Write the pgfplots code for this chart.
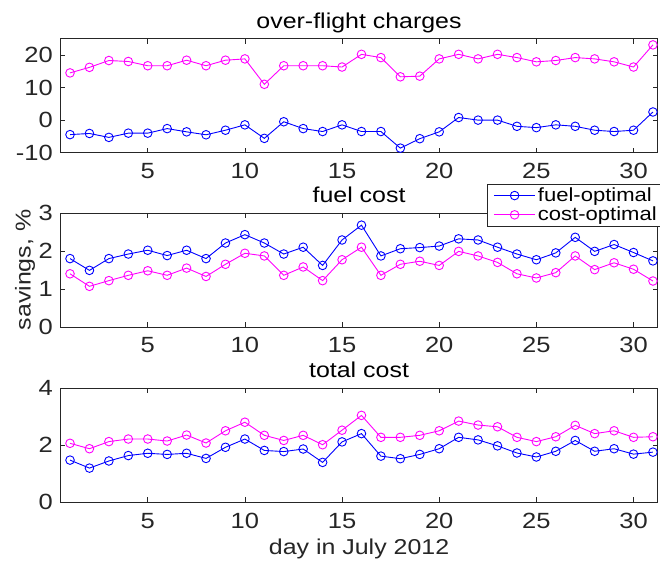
\documentclass[border=0pt]{standalone}
\usepackage{pgfplots}
\usepackage{pgfplotstable}
\pgfplotsset{compat=1.18}
\usepackage{fontspec}
\setmainfont[FakeStretch=1.16]{Liberation Sans}

\definecolor{mblue}{rgb}{0,0,1}
\definecolor{mmag}{rgb}{1,0,1}
\definecolor{axgray}{gray}{0.15}

% day, fuel-optimal, cost-optimal
\pgfplotstableread{
day fuel cost
1  -4.45 14.5
2  -4.1  16.2
3  -5.3  18.3
4  -4.0  18.0
5  -4.0  16.7
6  -2.6  16.7
7  -3.6  18.4
8  -4.5  16.7
9  -3.1  18.4
10 -1.45 18.8
11 -5.6  11.0
12 -0.5  16.7
13 -2.6  16.7
14 -3.5  16.7
15 -1.45 16.3
16 -3.5  20.2
17 -3.5  19.2
18 -8.6  13.3
19 -5.7  13.5
20 -3.6  18.8
21  0.8  20.2
22  0.0  18.8
23  0.0  20.2
24 -1.9  19.2
25 -2.3  17.9
26 -1.45 18.3
27 -1.9  19.2
28 -3.1  18.8
29 -3.5  17.9
30 -3.1  16.3
31  2.5  23.1
}\overflight

\pgfplotstableread{
day fuel cost
1  1.80 1.40
2  1.49 1.07
3  1.80 1.22
4  1.92 1.36
5  2.02 1.48
6  1.88 1.36
7  2.02 1.55
8  1.80 1.33
9  2.21 1.65
10 2.43 1.94
11 2.21 1.87
12 1.92 1.36
13 2.10 1.58
14 1.62 1.22
15 2.29 1.77
16 2.68 2.10
17 1.87 1.36
18 2.06 1.65
19 2.09 1.73
20 2.13 1.62
21 2.32 1.99
22 2.29 1.87
23 2.10 1.70
24 1.92 1.40
25 1.77 1.29
26 1.95 1.43
27 2.36 1.87
28 1.99 1.51
29 2.17 1.69
30 1.96 1.52
31 1.74 1.21
}\fuelcost

\pgfplotstableread{
day fuel cost
1  1.48 2.07
2  1.20 1.88
3  1.45 2.13
4  1.64 2.22
5  1.72 2.22
6  1.68 2.15
7  1.72 2.36
8  1.54 2.08
9  1.93 2.51
10 2.22 2.81
11 1.82 2.35
12 1.78 2.17
13 1.87 2.35
14 1.40 2.02
15 2.12 2.53
16 2.41 3.05
17 1.62 2.28
18 1.53 2.28
19 1.68 2.35
20 1.88 2.51
21 2.28 2.85
22 2.19 2.71
23 1.98 2.65
24 1.73 2.28
25 1.59 2.13
26 1.79 2.30
27 2.17 2.70
28 1.79 2.41
29 1.88 2.51
30 1.69 2.28
31 1.76 2.30
}\totalcost

\pgfplotsset{
  panel/.style={
    scale only axis,
    width=597.5bp, height=114bp,
    anchor=south west,
    xmin=0.5, xmax=31.25,
    xtick={5,10,...,30},
    tick align=inside,
    major tick length=5bp,
    axis line style={axgray, line width=0.7bp},
    every tick/.style={axgray, line width=0.7bp},
    tick label style={font=\fontsize{22bp}{26bp}\selectfont, text=axgray, inner sep=0pt},
    xticklabel style={anchor=base, yshift=-26bp},
    yticklabel style={anchor=east, xshift=-7.4bp},
    /pgf/number format/assume math mode=true,
    title style={font=\fontsize{21.5bp}{25bp}\selectfont, inner sep=0pt,
      at={(axis description cs:0.5,1)}, anchor=base, yshift=4.7bp},
    label style={font=\fontsize{21.5bp}{25bp}\selectfont, text=axgray, inner sep=0pt},
    clip=false,
  },
  fuelline/.style={mblue, line width=0.9bp, mark=o, mark size=4.3bp, mark options={line width=0.9bp}},
  costline/.style={mmag, line width=0.9bp, mark=o, mark size=4.3bp, mark options={line width=0.9bp}},
}

\begin{document}
\begin{tikzpicture}
\useasboundingbox (0,0) rectangle (660bp,561bp);

\begin{axis}[panel, at={(60.3bp,408.3bp)},
  ymin=-10, ymax=25, ytick={-10,0,10,20},
  title={over-flight charges}]
\addplot[costline] table[x=day,y=cost] {\overflight};
\addplot[fuelline] table[x=day,y=fuel] {\overflight};
\end{axis}

\begin{axis}[panel, at={(60.3bp,234bp)},
  ymin=0, ymax=3, ytick={0,1,2,3},
  title={fuel cost},
  ylabel={savings, \%},
  ylabel style={at={(axis description cs:-0.0495,0.5)}, anchor=base},
  legend cell align=left,
  legend image code/.code={
    \draw[mark repeat=2,mark phase=2,#1] plot coordinates {(0bp,0bp) (20.85bp,0bp) (41.7bp,0bp)};
  },
  legend style={at={(axis description cs:0.7136,1.258)}, anchor=north west,
    font=\fontsize{19bp}{22bp}\selectfont, draw=axgray, line width=0.7bp,
    inner xsep=6.3bp, inner ysep=2bp,
    nodes={inner sep=2bp, text depth=0.15em}},
  ]
\addplot[fuelline] table[x=day,y=fuel] {\fuelcost};
\addlegendentry{fuel-optimal}
\addplot[costline] table[x=day,y=cost] {\fuelcost};
\addlegendentry{cost-optimal}
\end{axis}

\begin{axis}[panel, at={(60.3bp,58.7bp)},
  ymin=0, ymax=4, ytick={0,2,4},
  title={total cost},
  xlabel={day in July 2012},
  xlabel style={at={(axis description cs:0.5,0)}, anchor=base, yshift=-52.5bp}]
\addplot[costline] table[x=day,y=cost] {\totalcost};
\addplot[fuelline] table[x=day,y=fuel] {\totalcost};
\end{axis}
\end{tikzpicture}
\end{document}
